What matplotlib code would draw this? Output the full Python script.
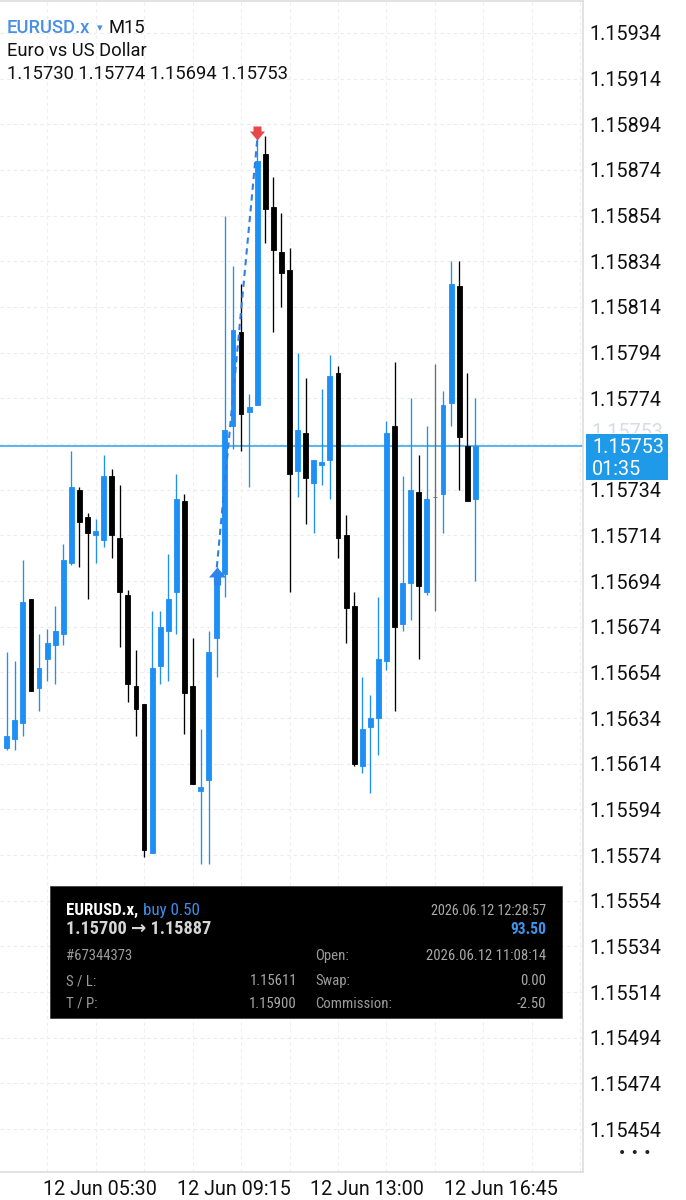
import matplotlib
matplotlib.use('Agg')
import matplotlib.pyplot as plt
import matplotlib.transforms as mtransforms
from matplotlib import font_manager
from matplotlib.patches import Rectangle
from matplotlib.path import Path
import numpy as np

# EURUSD.x M15 candles
opens = [1.15621, 1.15625, 1.15632, 1.15686, 1.15647, 1.15660, 1.15666, 1.15671, 1.15702, 1.15734,
         1.15722, 1.15714, 1.15712, 1.15740, 1.15713, 1.15688, 1.15648, 1.15640, 1.15575, 1.15657,
         1.15672, 1.15689, 1.15729, 1.15648, 1.15602, 1.15607, 1.15669, 1.15697, 1.15762, 1.15803,
         1.15768, 1.15771, 1.15881, 1.15858, 1.15838, 1.15830, 1.15742, 1.15759, 1.15737, 1.15745,
         1.15747, 1.15785, 1.15714, 1.15683, 1.15613, 1.15630, 1.15634, 1.15659, 1.15762, 1.15675,
         1.15693, 1.15733, 1.15689, 1.15731, 1.15732, 1.15772, 1.15823, 1.15753, 1.15730]
highs = [1.15663, 1.15659, 1.15703, 1.15686, 1.15671, 1.15673, 1.15683, 1.15710, 1.15751, 1.15735,
         1.15724, 1.15721, 1.15749, 1.15743, 1.15736, 1.15690, 1.15664, 1.15640, 1.15681, 1.15681,
         1.15706, 1.15741, 1.15732, 1.15669, 1.15629, 1.15672, 1.15700, 1.15854, 1.15832, 1.15824,
         1.15776, 1.15889, 1.15889, 1.15871, 1.15855, 1.15840, 1.15794, 1.15783, 1.15747, 1.15778,
         1.15793, 1.15788, 1.15723, 1.15689, 1.15652, 1.15644, 1.15687, 1.15764, 1.15790, 1.15740,
         1.15774, 1.15749, 1.15762, 1.15789, 1.15777, 1.15834, 1.15834, 1.15785, 1.15774]
lows = [1.15620, 1.15620, 1.15626, 1.15646, 1.15637, 1.15650, 1.15649, 1.15666, 1.15701, 1.15700,
        1.15686, 1.15702, 1.15709, 1.15704, 1.15665, 1.15641, 1.15626, 1.15573, 1.15575, 1.15649,
        1.15650, 1.15671, 1.15627, 1.15605, 1.15570, 1.15570, 1.15652, 1.15687, 1.15752, 1.15751,
        1.15735, 1.15771, 1.15842, 1.15803, 1.15814, 1.15689, 1.15731, 1.15719, 1.15715, 1.15736,
        1.15730, 1.15704, 1.15667, 1.15613, 1.15610, 1.15601, 1.15618, 1.15655, 1.15637, 1.15672,
        1.15677, 1.15660, 1.15688, 1.15681, 1.15715, 1.15762, 1.15734, 1.15729, 1.15694]
closes = [1.15626, 1.15633, 1.15685, 1.15646, 1.15656, 1.15667, 1.15672, 1.15703, 1.15735, 1.15720,
          1.15715, 1.15716, 1.15740, 1.15714, 1.15689, 1.15649, 1.15638, 1.15576, 1.15656, 1.15674,
          1.15686, 1.15730, 1.15645, 1.15605, 1.15604, 1.15663, 1.15694, 1.15760, 1.15804, 1.15767,
          1.15770, 1.15878, 1.15857, 1.15839, 1.15829, 1.15741, 1.15760, 1.15739, 1.15747, 1.15746,
          1.15784, 1.15713, 1.15682, 1.15614, 1.15629, 1.15634, 1.15660, 1.15759, 1.15674, 1.15693,
          1.15734, 1.15692, 1.15730, 1.15731, 1.15771, 1.15824, 1.15757, 1.15729, 1.15753]

# the closed buy trade (candle index, price)
entry_idx, entry_price = 26, 1.15700
exit_idx, exit_price = 31, 1.15887

time_labels = ['12 Jun 05:30', '12 Jun 09:15', '12 Jun 13:00', '12 Jun 16:45']
time_pos = [11.55, 28.1, 44.6, 61.2]

BLUE = '#1e8ff5'
fig_w, fig_h = 686, 1200

available = {f.name for f in font_manager.fontManager.ttflist}
if 'Roboto Condensed' in available:
    box_font, k = 'Roboto Condensed', 0.95
elif 'Liberation Sans Narrow' in available:
    box_font, k = 'Liberation Sans Narrow', 1.0
else:
    box_font, k = 'Roboto', 0.81

plt.rcParams['font.family'] = ['Roboto', 'DejaVu Sans']

fig = plt.figure(figsize=(fig_w / 100, fig_h / 100), dpi=100)
fig.patch.set_facecolor('white')

# axes box in pixels: x 0..583, y 1..1172 (from top)
ax = fig.add_axes([0, 1 - 1172 / fig_h, 583 / fig_w, 1171 / fig_h])
y_top, y_bot = 1.159480, 1.154352
ax.set_ylim(y_bot, y_top)
ax.set_xlim(-0.83, 71.32)
pxv = (y_top - y_bot) / 1171

x = np.arange(len(opens))
o = np.array(opens); h = np.array(highs); l = np.array(lows); c = np.array(closes)
colors = np.where(c > o, BLUE, np.where(c < o, '#000000', '#6e6e6e'))

# grid
yt = np.round(np.arange(1.15454, 1.159345, 0.0002), 5)
for v in yt:
    ax.axhline(v, color='#ebebeb', lw=0.8, dashes=(3, 3), zorder=0)
for v in np.arange(5, 72, 6):
    ax.axvline(v, color='#eeeeee', lw=0.8, dashes=(3, 3), zorder=0)

# current price line
last = closes[-1]
ax.axhline(last, color='#2aa3ea', lw=1.1, zorder=1)

# candles
ax.vlines(x, l, h, colors=colors, lw=0.95, zorder=3)
ax.bar(x, np.abs(c - o), bottom=np.minimum(o, c), width=0.6, color=colors,
       edgecolor=colors, lw=0.6, zorder=4)

# trade line and arrows
ax.plot([entry_idx, exit_idx], [entry_price, exit_price], color='#2f7fe6', lw=1.5,
        dashes=(3, 2.2), zorder=5)
up = Path([(0, 0), (8.5, -10), (3.6, -10), (3.6, -18), (-3.6, -18), (-3.6, -10),
           (-8.5, -10), (0, 0)], closed=True)
down = Path([(0, 0), (7.5, 9), (4, 9), (4, 14), (-4, 14), (-4, 9), (-7.5, 9), (0, 0)],
            closed=True)
ax.plot(entry_idx, entry_price, marker=up, ms=25.9, mew=0, color='#2d84ea', ls='none', zorder=6)
ax.plot(exit_idx, exit_price, marker=down, ms=20.2, mew=0, color='#e8474a', ls='none', zorder=6)

# axes styling
ax.spines['left'].set_visible(False)
for side in ['top', 'right', 'bottom']:
    ax.spines[side].set_color('#dddddd')
    ax.spines[side].set_linewidth(1.2)
ax.yaxis.tick_right()
ax.set_yticks(yt, [f'{v:.5f}' if abs(v - 1.15754) > 1e-7 else '' for v in yt])
ax.set_xticks(time_pos, time_labels)
ax.tick_params(axis='y', length=0, pad=4.3, labelsize=14.2, labelcolor='#111111')
ax.tick_params(axis='x', length=0, pad=5.8, labelsize=14.2, labelcolor='#111111')

# price box on the right axis (with the faded bid label peeking out above it)
tr = mtransforms.blended_transform_factory(ax.transAxes, ax.transData)
ghost = ax.text(591 / 583, last + 13.5 * pxv, f'{last:.5f}', transform=tr, fontsize=14.2,
                color='#d5dde7', va='center', clip_on=False, zorder=9)
ax.add_artist(Rectangle((586 / 583, last - 33.5 * pxv), 82 / 583, 46 * pxv, transform=tr,
                        facecolor='#1f9ae8', edgecolor='none', clip_on=False, zorder=10))
ax.text(592 / 583, last - 7 * pxv, f'{last:.5f}', transform=tr, fontsize=14.2,
        color='white', va='baseline', clip_on=False, zorder=11)
ax.text(592 / 583, last - 28.5 * pxv, '01:35', transform=tr, fontsize=14.2,
        color='white', va='baseline', clip_on=False, zorder=11)


def fx(px):
    return px / fig_w


def fy(py):
    return 1 - py / fig_h


# only the top sliver of the faded label is visible
ghost.set_clip_box(mtransforms.Bbox.from_extents(580, fig_h - 433, fig_w, fig_h - 415))
ghost.set_clip_on(True)

# header
fig.text(fx(7), fy(33), 'EURUSD.x', color='#4a90e2', fontsize=13.2, fontweight='medium')
fig.text(fx(97), fy(31), '\u25be', color='#4a90e2', fontsize=8, family=['DejaVu Sans'])
fig.text(fx(108), fy(33), 'M15', color='#111111', fontsize=13.2)
fig.text(fx(7), fy(56), 'Euro vs US Dollar', color='#111111', fontsize=13.2)
fig.text(fx(7), fy(79), '1.15730 1.15774 1.15694 1.15753', color='#111111', fontsize=13.2)

fig.text(fx(635), fy(1157), '\u2022 \u2022 \u2022', color='#222222', fontsize=10,
         ha='center', family=['DejaVu Sans'])

# trade info box
fig.add_artist(Rectangle((fx(50), fy(1018)), fx(512), 132 / fig_h, transform=fig.transFigure,
                         facecolor='#000000', edgecolor='#333333', lw=0.5, zorder=20))
kw = dict(family=[box_font, 'DejaVu Sans'], zorder=21)
t1 = fig.text(fx(66), fy(915), 'EURUSD.x,', color='white', fontsize=12.8 * k,
              fontweight='bold', **kw)
fig.canvas.draw()
bb = t1.get_window_extent()
fig.text((bb.x1 + 5) / fig_w, fy(915), 'buy 0.50', color='#3b8fe8', fontsize=12.8 * k, **kw)
fig.text(fx(66), fy(934), '1.15700 \u2192 1.15887', color='#d6d6d6', fontsize=13.8 * k,
         fontweight='bold', **kw)
fig.text(fx(546), fy(915), '2026.06.12 12:28:57', color='#aaaaaa', fontsize=10.8 * k,
         ha='right', **kw)
fig.text(fx(546), fy(934), '93.50', color='#3f94ec', fontsize=11.8 * k, fontweight='bold',
         ha='right', **kw)

rows = [(960, '#67344373', '', 'Open:', '2026.06.12 11:08:14'),
        (985, 'S / L:', '1.15611', 'Swap:', '0.00'),
        (1008, 'T / P:', '1.15900', 'Commission:', '-2.50')]
for yb, lab, val, lab2, val2 in rows:
    fig.text(fx(66), fy(yb), lab, color='#9b9b9b', fontsize=11.2 * k, **kw)
    fig.text(fx(297), fy(yb), val, color='#a8a8a8', fontsize=11.2 * k, ha='right', **kw)
    fig.text(fx(315), fy(yb), lab2, color='#9b9b9b', fontsize=11.2 * k, **kw)
    fig.text(fx(546), fy(yb), val2, color='#a8a8a8', fontsize=11.2 * k, ha='right', **kw)

fig.savefig('out.png', dpi=100)
